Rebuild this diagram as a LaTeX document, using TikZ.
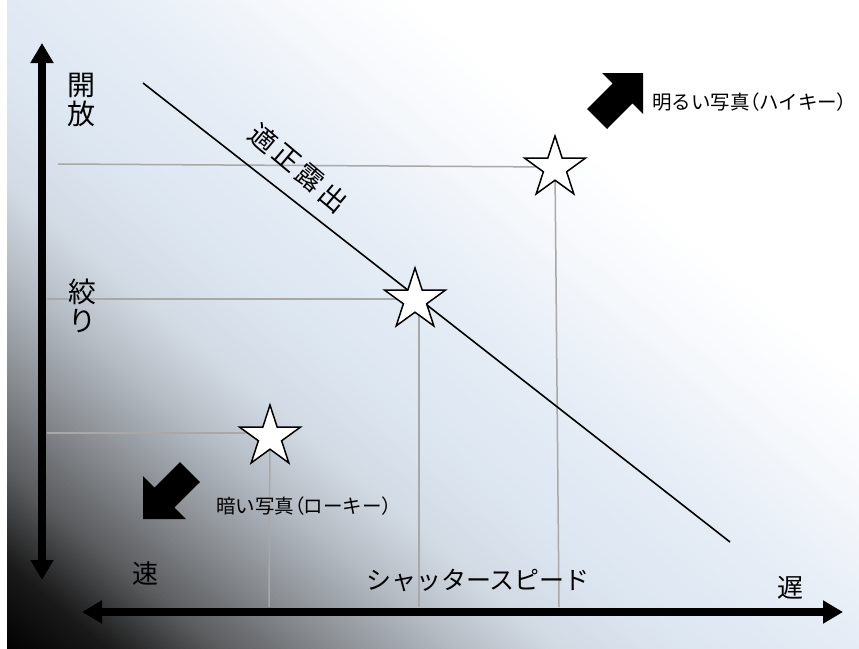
\documentclass[tikz,border=0pt]{standalone}
\usepackage{fontspec}
\newfontfamily\jp{Noto Sans CJK JP}
\usetikzlibrary{arrows.meta,shapes.geometric}
\definecolor{c0}{HTML}{000000}
\definecolor{c1}{HTML}{1A1A1A}
\definecolor{c2}{HTML}{5A5C5E}
\definecolor{c3}{HTML}{8C9095}
\definecolor{c4}{HTML}{B5BCC4}
\definecolor{c5}{HTML}{D2DAE4}
\definecolor{c6}{HTML}{DCE6F1}
\definecolor{c7}{HTML}{E6EDF6}
\definecolor{c8}{HTML}{F4F7FB}
\definecolor{c9}{HTML}{FFFFFF}
\definecolor{guide}{HTML}{A8A8A8}
\newcommand{\pparen}[1]{{\addfontfeature{RawFeature=+palt}#1}}
\tikzset{
  axisline/.style={line width=8pt,{Triangle[length=20pt,width=22pt]}-{Triangle[length=20pt,width=22pt]}},
  guideline/.style={draw=guide,line width=1.5pt},
  exposure/.style={line width=1.6pt,black},
  starmark/.style={star,star points=5,star point ratio=2.618,minimum size=64pt,inner sep=0pt,draw=black,fill=white,line width=1.5pt},
  bigjp/.style={font=\jp\fontsize{28}{29.5}\selectfont,align=center,inner sep=0pt},
  midjp/.style={font=\jp\fontsize{25}{27}\selectfont,inner sep=0pt},
  rotjp/.style={font=\jp\fontsize{27}{29}\selectfont,inner sep=0pt,rotate=-40},
  smalljp/.style={font=\jp\fontsize{19.5}{22}\selectfont,inner sep=0pt},
  blockarrow/.style={fill=black}
}
\begin{document}
\begin{tikzpicture}[x=1pt,y=-1pt]
\useasboundingbox (0,0) rectangle (859,648);
\fill[white] (0,0) rectangle (859,648);
% background gradient
\begin{scope}
\clip (7,0) rectangle (859,648);
\foreach \ta/\tb/\ca/\cb in {0/70/c0/c1,70/140/c1/c2,140/220/c2/c3,220/295/c3/c4,295/360/c4/c5,360/440/c5/c6,440/560/c6/c7,560/660/c7/c8,660/760/c8/c9}{
  \foreach \i in {0,...,19}{
    \pgfmathsetmacro\ts{\ta+(\tb-\ta)*\i/20}
    \pgfmathsetmacro\te{\ta+(\tb-\ta)*(\i+1)/20+1}
    \pgfmathsetmacro\pc{97.5-5*\i}
    \fill[\ca!\pc!\cb] (0.643*\ts-919, 648-0.766*\ts-772) -- (0.643*\ts+919, 648-0.766*\ts+772) -- (0.643*\te+919, 648-0.766*\te+772) -- (0.643*\te-919, 648-0.766*\te-772) -- cycle;
  }
}
\end{scope}
% star centres
\coordinate (c1) at (555,168);
\coordinate (c2) at (415,300);
\coordinate (c3) at (270,437);
% guide lines
\coordinate (h1) at (58,164);
\coordinate (h2) at (47,299);
\coordinate (h3) at (47,433);
\coordinate (v1) at (559,607);
\coordinate (v2) at (419,607);
\coordinate (v3) at (269,607);
\draw[guideline] (h1) -- (c1 |- 0,167);
\draw[guideline] (h2) -- (c2 |- h2);
\draw[guideline] (h3) -- (c3 |- h3);
\draw[guideline] (c1) -- (v1);
\draw[guideline] (c2 -| v2) -- (v2);
\draw[guideline] (c3) -- (v3);
% exposure line
\coordinate (d1) at (143,83);
\coordinate (d2) at (730,542);
\draw[exposure] (d1) -- (d2);
% axes
\coordinate (vt) at (42,43);
\coordinate (vb) at (42,580);
\coordinate (hl) at (82,612);
\coordinate (hr) at (843,612);
\draw[axisline] (vb) -- (vt);
\draw[axisline] (hl) -- (hr);
% stars
\node[starmark] (s1) at (c1) {};
\node[starmark] (s2) at (c2) {};
\node[starmark] (s3) at (c3) {};
% block arrows
\fill[blockarrow] (643,73) -- (643,114) -- (632.4,103.4) -- (607,129) -- (587,109) -- (612.6,83.6) -- (602,73) -- cycle;
\fill[blockarrow] (143,519) -- (143,476) -- (154.6,487.6) -- (180,462) -- (200,482) -- (174.4,507.4) -- (186,519) -- cycle;
% labels
\node[bigjp] (open) at (81,100) {開\\放};
\node[bigjp] (close) at (82,306) {絞\\り};
\node[midjp,font=\jp\fontsize{26}{28}\selectfont] (fast) at (145,574) {速};
\node[midjp,font=\jp\fontsize{26}{28}\selectfont] (slow) at (790,588) {遅};
\node[midjp] (speed) at (478,580) {シャッタースピード};
\node[rotjp] (pa) at (264,138) {適};
\node[rotjp] (pb) at (287,158) {正};
\node[rotjp] (pc) at (310,178) {露};
\node[rotjp] (pd) at (333,198) {出};
\node[smalljp,anchor=west] (bright) at (652,102) {明るい写真\pparen{（}ハイキー\pparen{）}};
\node[smalljp,anchor=west] (dark) at (216,506) {暗い写真\pparen{（}ローキー\pparen{）}};
\end{tikzpicture}
\end{document}
